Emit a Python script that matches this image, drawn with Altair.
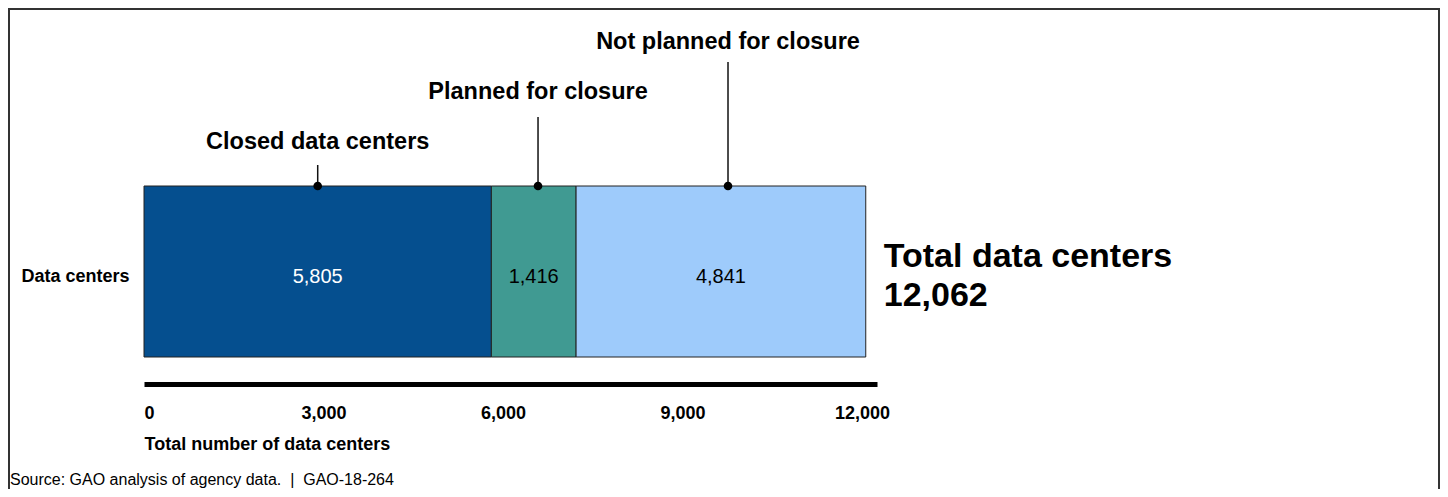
import altair as alt
import pandas as pd

# ---- data ----
categories = ["Closed data centers", "Planned for closure", "Not planned for closure"]
counts = [5805, 1416, 4841]
annotation_x = [2903, 6585, 9760]          # where the callout pins sit (data units)
row_label = "Data centers"
total_value = 12062
total_title = "Total data centers"
x_ticks = [0, 3000, 6000, 9000, 12000]
x_max = 12250
x_title = "Total number of data centers"
source_text = "Source: GAO analysis of agency data. \u00a0|\u00a0 GAO-18-264"

# ---- styles ----
bar_colors = ["#054F8F", "#409A92", "#9ECBFB"]
value_colors = ["white", "black", "black"]
FONT = "Liberation Sans"

starts, s = [], 0
for c in counts:
    starts.append(s)
    s += c
ends = [a + b for a, b in zip(starts, counts)]
mids = [(a + b) / 2 for a, b in zip(starts, ends)]

df = pd.DataFrame({
    "cat": categories,
    "row": [row_label] * len(categories),
    "start": starts,
    "end": ends,
    "mid": mids,
    "label": [f"{c:,}" for c in counts],
    "ann": annotation_x,
    "tcolor": value_colors,
})

xscale = alt.Scale(domain=[0, x_max], nice=False, zero=True)
yscale = alt.Scale(paddingInner=0, paddingOuter=0)

base = alt.Chart(df)

bars = base.mark_bar(stroke="#222222", strokeWidth=1).encode(
    x=alt.X("start:Q", scale=xscale,
            axis=alt.Axis(values=x_ticks, format=",.0f", title=x_title)),
    x2="end:Q",
    y=alt.Y("row:N", scale=yscale, axis=alt.Axis(title=None)),
    color=alt.Color("cat:N", scale=alt.Scale(domain=categories, range=bar_colors), legend=None),
)

values = base.mark_text(font=FONT, fontSize=20, dy=5).encode(
    x=alt.X("mid:Q", scale=xscale),
    y=alt.Y("row:N", scale=yscale),
    text="label:N",
    color=alt.Color("tcolor:N", scale=None),
)

# callouts: line top and label baseline (pixels above the bar top)
line_tops = [-21, -69, -124]
label_baselines = [-37, -87, -137]

layers = [bars, values]
for cat, top, lb in zip(categories, line_tops, label_baselines):
    sub = base.transform_filter(alt.datum.cat == cat)
    layers.append(sub.mark_rule(color="#111111", strokeWidth=1.5).encode(
        x=alt.X("ann:Q", scale=xscale), y=alt.value(top), y2=alt.value(0)))
    layers.append(sub.mark_point(filled=True, size=75, color="black", opacity=1).encode(
        x=alt.X("ann:Q", scale=xscale), y=alt.value(0)))
    layers.append(sub.mark_text(font=FONT, fontSize=23.5, fontWeight="bold",
                                baseline="alphabetic", align="center", color="black").encode(
        x=alt.X("ann:Q", scale=xscale), y=alt.value(lb), text="cat:N"))

tot_df = pd.DataFrame({"v": [total_value], "t1": [total_title], "t2": [f"{total_value:,}"]})
tot = alt.Chart(tot_df)
layers.append(tot.mark_text(font=FONT, fontSize=34, fontWeight="bold", align="left",
                            baseline="alphabetic", dx=18, color="black").encode(
    x=alt.X("v:Q", scale=xscale), y=alt.value(81), text="t1:N"))
layers.append(tot.mark_text(font=FONT, fontSize=34, fontWeight="bold", align="left",
                            baseline="alphabetic", dx=18, color="black").encode(
    x=alt.X("v:Q", scale=xscale), y=alt.value(120), text="t2:N"))

src = alt.Chart(pd.DataFrame({"s": [source_text]}))
layers.append(src.mark_text(font=FONT, fontSize=16, align="left", baseline="alphabetic",
                            color="black").encode(
    x=alt.value(-134), y=alt.value(299), text="s:N"))

# outer frame
layers.append(src.mark_rect(fillOpacity=0, stroke="#333333", strokeWidth=2).encode(
    x=alt.value(-135), x2=alt.value(1295), y=alt.value(-177), y2=alt.value(400)))

chart = alt.layer(*layers).properties(
    width=733,
    height=171,
    padding={"left": 136, "top": 178, "right": 563, "bottom": 132},
    autosize=alt.AutoSizeParams(type="none"),
    background="white",
).configure_view(stroke=None).configure_axisX(
    domainWidth=5, domainColor="black", ticks=False, grid=False,
    labelFont=FONT, labelFontSize=18, labelFontWeight="bold", labelColor="black",
    labelPadding=20, offset=27,
    titleFont=FONT, titleFontSize=18, titleFontWeight="bold", titleColor="black",
    titleAnchor="start", titleAlign="left", titlePadding=13,
).configure_axisY(
    domain=False, ticks=False, grid=False,
    labelFont=FONT, labelFontSize=18, labelFontWeight="bold", labelColor="black",
    labelPadding=15, labelOffset=5,
)

chart.save("out.html", embed_options={"renderer": "svg", "actions": False})
